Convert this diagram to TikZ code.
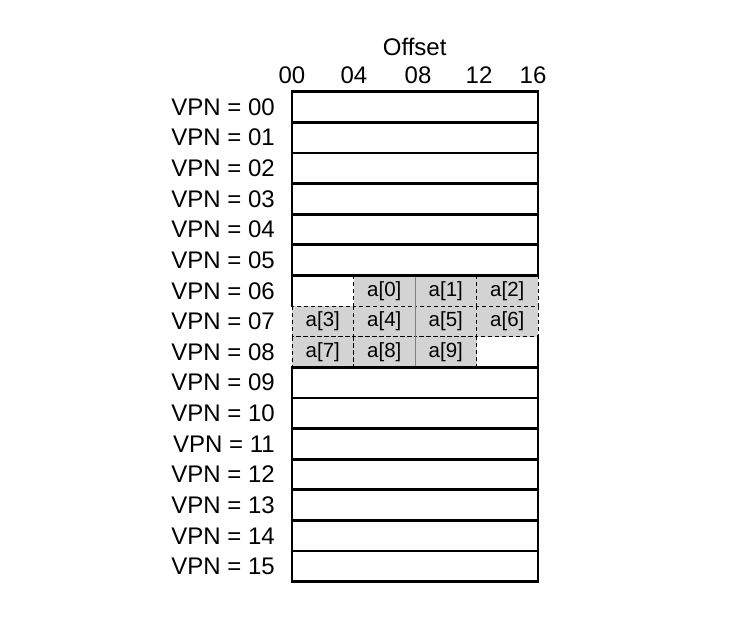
\documentclass[tikz,border=0pt]{standalone}
\usepackage{fontspec}
\setmainfont{Liberation Sans}
\begin{document}
\begin{tikzpicture}[x=1pt,y=-1pt,
  rowbox/.style={draw=black,line width=2.7pt,fill=white},
  rowline/.style={draw=black,line width=2.7pt,line cap=rect},
  cellbox/.style={draw=black,dash pattern=on 4pt off 3pt,line width=1pt,fill=cellgrey},
  lbl/.style={font=\fontsize{24}{26}\selectfont,inner sep=0pt},
  celltext/.style={font=\fontsize{20.5}{22}\selectfont,inner sep=0pt}]
\definecolor{cellgrey}{RGB}{211,211,211}
\useasboundingbox (0,0) rectangle (750,632);
\def\xl{292}\def\cw{61.5}\def\yt{91.7}\def\rh{30.625}
% grey cells
\foreach \r/\c/\n in {6/1/0,6/2/1,6/3/2,7/0/3,7/1/4,7/2/5,7/3/6,8/0/7,8/1/8,8/2/9}{
  \path[cellbox] ({\xl+\c*\cw},{\yt+\r*\rh}) rectangle ({\xl+(\c+1)*\cw},{\yt+(\r+1)*\rh});
  \node[celltext] (a\n) at ({\xl+(\c+0.5)*\cw},{\yt+(\r+0.5)*\rh}) {a[\n]};
}
\draw[draw=gray,line width=1pt] ({\xl+2*\cw},{\yt+6*\rh}) -- ({\xl+2*\cw},{\yt+9*\rh});
% rows
\foreach \r in {0,...,5,9,10,...,15}{
  \path[rowbox] (\xl,{\yt+\r*\rh}) rectangle ({\xl+4*\cw},{\yt+(\r+1)*\rh});
}
\path[rowline] (\xl,{\yt+6*\rh}) -- (\xl,{\yt+7*\rh});
\path[rowline] ({\xl+4*\cw},{\yt+8*\rh}) -- ({\xl+4*\cw},{\yt+9*\rh});
% labels
\foreach \r/\t in {0/00,1/01,2/02,3/03,4/04,5/05,6/06,7/07,8/08,9/09,10/10,11/11,12/12,13/13,14/14,15/15}{
  \node[lbl,anchor=east] (v\r) at (275,{\yt+(\r+0.5)*\rh}) {VPN = \t};
}
\node[lbl,anchor=base] (off) at (414.7,55) {Offset};
\node[lbl,anchor=base] (o0) at (292,83) {00};
\node[lbl,anchor=base] (o1) at (354,83) {04};
\node[lbl,anchor=base] (o2) at (418,83) {08};
\node[lbl,anchor=base] (o3) at (479,83) {12};
\node[lbl,anchor=base] (o4) at (533,83) {16};
\end{tikzpicture}
\end{document}
